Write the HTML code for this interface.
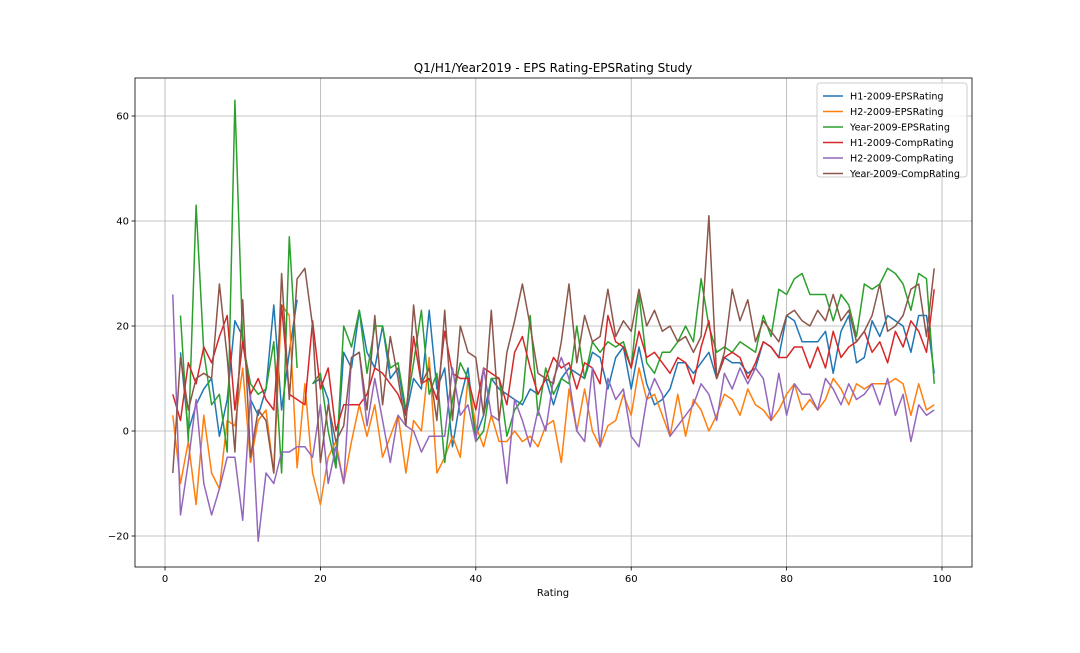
<!DOCTYPE html>
<html><head><meta charset="utf-8"><style>
body{margin:0;background:#fff;font-family:"Liberation Sans","DejaVu Sans",sans-serif}
svg text{font-family:"DejaVu Sans","Liberation Sans",sans-serif;font-size:10px;fill:#000}
svg #legend text{font-size:9.6px}
</style></head><body>
<svg id="chart" width="1080" height="648" xmlns="http://www.w3.org/2000/svg">
<rect width="1080" height="648" fill="#fff"/>
<g id="grid"></g><g id="lines"></g><g id="axes"></g>
<text x="553" y="72" text-anchor="middle" style="font-size:12px">Q1/H1/Year2019 - EPS Rating-EPSRating Study</text>
<text x="553" y="596" text-anchor="middle">Rating</text>
<g id="legend"></g>
</svg>
<script>
const N=null;
const seriesNames=["H1-2009-EPSRating","H2-2009-EPSRating","Year-2009-EPSRating","H1-2009-CompRating","H2-2009-CompRating","Year-2009-CompRating"];
const colors=["#1f77b4","#ff7f0e","#2ca02c","#d62728","#9467bd","#8c564b"];
const xTicks=[0,20,40,60,80,100];
const yTicks=[-20,0,20,40,60];
const h1Eps=[N,15,0,5,8,10,-1,6,21,18,6,3,8,24,4,15,25,N,9,10,6,-7,15,12,23,15,12,20,10,12,3,10,8,23,8,12,-3,6,12,-1,3,10,8,7,6,5,8,7,10,5,10,12,11,10,15,14,8,14,16,8,16,9,5,6,8,13,13,11,13,15,10,14,13,13,11,12,17,16,14,22,21,17,17,17,19,11,19,22,13,14,21,18,22,21,20,15,22,22,11];
const h2Eps=[3,-10,-2,-14,3,-8,-11,2,1,12,-6,2,4,-8,24,22,-7,9,-8,-14,-5,-2,-10,-2,5,-1,5,-5,-1,3,-8,2,0,14,-8,-5,-1,-5,10,1,-3,3,-2,-2,0,-2,-1,-3,1,2,-6,8,0,8,0,-3,1,2,7,3,12,6,7,3,-1,7,-1,6,4,0,3,7,6,3,8,5,4,2,4,7,9,4,6,4,6,10,8,5,9,8,9,9,9,10,9,3,9,4,5];
const yearEps=[N,22,-2,43,15,5,7,-4,63,17,9,7,8,17,-8,37,12,N,9,11,0,-7,20,16,23,11,20,20,12,13,4,13,23,7,11,-6,6,13,10,-2,0,10,10,-1,4,6,22,3,12,7,10,9,20,10,17,15,17,16,17,12,26,13,11,15,15,17,20,17,29,20,15,16,15,17,16,15,22,18,27,26,29,30,26,26,26,21,26,24,18,28,27,28,31,30,28,23,30,29,9];
const h1Comp=[7,2,13,9,16,13,18,22,4,17,7,10,6,4,24,7,6,5,21,8,12,0,5,5,5,7,12,11,9,7,3,18,9,10,6,19,11,10,10,4,12,11,10,5,15,18,12,7,10,14,12,13,8,13,12,9,22,17,16,12,19,14,15,13,11,14,13,9,16,21,10,14,15,14,10,13,17,16,14,14,16,16,12,16,12,19,14,16,17,19,15,17,13,19,16,21,19,15,27];
const h2Comp=[26,-16,-6,6,-10,-16,-11,-5,-5,-17,7,-21,-8,-10,-4,-4,-3,-3,-5,5,-10,-3,-10,14,15,1,10,2,-6,3,1,0,-4,-1,-1,-1,12,3,5,-2,12,3,2,-10,6,2,-3,4,0,10,14,10,0,-2,12,-3,10,6,8,-1,-3,6,10,7,-1,1,3,5,9,7,2,11,8,12,9,12,10,2,11,3,9,7,7,4,10,8,5,9,6,7,9,5,10,3,7,-2,5,3,4];
const yearComp=[-8,14,4,10,11,10,28,14,-4,25,-5,4,2,-8,30,6,29,31,20,-6,5,-2,1,14,15,4,22,5,18,10,1,24,9,12,2,23,2,20,15,14,3,23,2,15,21,28,20,11,10,9,17,28,13,22,17,18,27,18,21,19,27,20,23,19,20,17,18,15,18,41,10,15,27,21,25,17,21,19,17,22,23,21,20,23,21,26,21,23,17,19,22,28,19,20,22,27,28,18,31];
const allSeries=[h1Eps,h2Eps,yearEps,h1Comp,h2Comp,yearComp];
const L=135,R=972,T=78,B=567;
const xs=v=>165+(v-0)*(942-165)/100;
const ys=v=>431-v*(431-116)/60;
const NS="http://www.w3.org/2000/svg";
function mk(tag,attrs,parent){const e=document.createElementNS(NS,tag);for(const k in attrs)e.setAttribute(k,attrs[k]);parent.appendChild(e);return e;}
const grid=document.getElementById('grid'),axes=document.getElementById('axes'),lines=document.getElementById('lines'),legend=document.getElementById('legend');
xTicks.forEach(t=>{const x=xs(t);
 const g=mk('line',{x1:x,x2:x,y1:T,y2:B,stroke:'#b0b0b0','stroke-width':0.8},grid);
 
 
 mk('line',{x1:x,x2:x,y1:B,y2:B+3.5,stroke:'#000','stroke-width':0.8},axes);
 const tx=mk('text',{x:x,y:B+15,'text-anchor':'middle'},axes);tx.textContent=t;
 
 });
yTicks.forEach(t=>{const y=ys(t);
 const g=mk('line',{x1:L,x2:R,y1:y,y2:y,stroke:'#b0b0b0','stroke-width':0.8},grid);
 
 
 mk('line',{x1:L-3.5,x2:L,y1:y,y2:y,stroke:'#000','stroke-width':0.8},axes);
 const tx=mk('text',{x:L-6,y:y+3.5,'text-anchor':'end'},axes);tx.textContent=(t<0?'\u2212'+(-t):t);
 
 });
const frame=mk('rect',{x:L,y:T,width:R-L,height:B-T,fill:'none',stroke:'#000','stroke-width':0.8},axes);


allSeries.forEach((s,i)=>{let d='',pen=false;
 s.forEach((v,j)=>{if(v===null){pen=false;return;}d+=(pen?'L':'M')+xs(j+1).toFixed(1)+','+ys(v).toFixed(1);pen=true;});
 const p=mk('path',{d:d,fill:'none',stroke:colors[i],'stroke-width':1.5,'stroke-linejoin':'round'},lines);
 
 });
const lb=mk('rect',{x:817,y:83,width:150,height:94,rx:3,fill:'#fff','fill-opacity':0.8,stroke:'#ccc'},legend);


seriesNames.forEach((n,i)=>{const y=96+i*15.5;
 const ln=mk('line',{x1:823,x2:843,y1:y,y2:y,stroke:colors[i],'stroke-width':1.5},legend);
 
 
 const tx=mk('text',{x:850,y:y+3.5},legend);tx.textContent=n;
 
 });
</script>
</body></html>
